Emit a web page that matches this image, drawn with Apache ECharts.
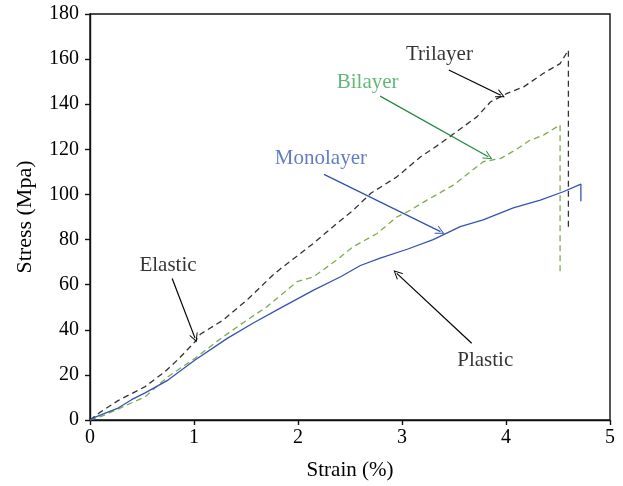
<!DOCTYPE html>
<html>
<head>
<meta charset="utf-8">
<script src="https://cdn.jsdelivr.net/npm/echarts@6/dist/echarts.min.js"></script>
<style>
  html, body { margin: 0; padding: 0; background: #fff; }
  #chart { width: 623px; height: 486px; }
</style>
</head>
<body>
<div id="chart"></div>
<script>
// --- Data ---
const trilayerStrain = [0, 0.1, 0.27, 0.53, 0.72, 0.85, 1.01, 1.06, 1.28, 1.51, 1.76, 1.83, 2.0, 2.15, 2.37, 2.53, 2.7, 2.95, 3.18, 3.35, 3.5, 3.72, 3.85, 4.01, 4.17, 4.36, 4.52, 4.6, 4.6];
const trilayerStress = [0, 3.5, 8.6, 14.8, 21.4, 27, 34.7, 38, 44.3, 53.2, 64.3, 67, 73, 78.4, 87, 93, 100.5, 107.8, 116.7, 122, 127, 134.4, 141, 144.8, 147.7, 153.7, 158, 164, 85];

const bilayerStrain = [0, 0.14, 0.3, 0.53, 0.75, 1.01, 1.28, 1.5, 1.7, 1.99, 2.15, 2.37, 2.53, 2.76, 2.95, 3.08, 3.24, 3.49, 3.72, 3.78, 3.95, 4.1, 4.23, 4.36, 4.52, 4.52];
const bilayerStress = [0, 2.2, 5.5, 10.3, 19.2, 27.4, 36.9, 44, 50.2, 61.3, 63.5, 70.9, 76.8, 82.7, 90, 93, 97.5, 104, 112.3, 114.5, 116, 120, 124, 126.3, 130.8, 65];

const monolayerStrain = [0, 0.05, 0.27, 0.4, 0.53, 0.75, 1.01, 1.32, 1.57, 1.83, 2.15, 2.41, 2.6, 2.79, 3.05, 3.3, 3.56, 3.78, 4.07, 4.33, 4.55, 4.72, 4.72];
const monolayerStress = [0, 1.3, 5.3, 9, 12, 17.7, 26.6, 36.2, 43, 49.6, 57.6, 63.5, 68.5, 71.8, 75.7, 80, 85.7, 88.7, 94, 97.5, 101.2, 104.6, 97];

// annotations: label text, label position, arrow tail, arrow head (data units)
const noteTexts = ['Trilayer', 'Bilayer', 'Monolayer', 'Elastic', 'Plastic'];
const noteAt = [[3.36, 162.2], [2.67, 149.8], [2.22, 116], [0.75, 68.7], [3.8, 26.6]];
const arrowFrom = [[3.45, 155.2], [2.79, 143.6], [2.25, 108.9], [0.79, 62.7], [3.67, 34]];
const arrowTo = [[3.95, 144], [3.83, 116.7], [3.37, 83.5], [1.01, 36.3], [2.95, 65]];
const noteColors = ['#000', '#3aa655', '#3a5cb4', '#000', '#000'];
const arrowColors = ['#000', '#1f8a3f', '#3050ad', '#000', '#000'];

const FONT = 'Liberation Serif';
const openArrow = 'path://M0,10 L5,0 L10,10 L8.8,10 L5,2.4 L1.2,10 Z';

function zipXY(xs, ys) {
  return xs.map((x, i) => [x, ys[i]]);
}

const chart = echarts.init(document.getElementById('chart'), null, { renderer: 'canvas' });

const axisCommon = {
  axisLine: { show: true, lineStyle: { color: '#111', width: 1.4 } },
  axisTick: { show: true, inside: false, length: 5, lineStyle: { color: '#111', width: 1.4 } },
  axisLabel: { color: '#000', fontFamily: FONT, fontSize: 20 },
  splitLine: { show: false },
  nameTextStyle: { color: '#000', fontFamily: FONT, fontSize: 21 }
};

const option = {
  animation: false,
  backgroundColor: '#fff',
  grid: {
    left: 90, right: 13, top: 14, bottom: 66,
    show: true, borderColor: '#111', borderWidth: 1.4
  },
  xAxis: Object.assign({}, axisCommon, {
    type: 'value', min: 0, max: 5, interval: 1,
    name: 'Strain (%)', nameLocation: 'middle', nameGap: 40,
    axisLabel: Object.assign({}, axisCommon.axisLabel, { margin: 8 })
  }),
  yAxis: Object.assign({}, axisCommon, {
    type: 'value', min: 0, max: 180, interval: 20,
    name: 'Stress (Mpa)', nameLocation: 'middle', nameGap: 54,
    nameTextStyle: Object.assign({}, axisCommon.nameTextStyle, { fontSize: 22 }),
    axisLabel: Object.assign({}, axisCommon.axisLabel, { margin: 11 })
  }),
  series: [
    {
      name: 'Trilayer', type: 'line', data: zipXY(trilayerStrain, trilayerStress),
      showSymbol: false, symbol: 'none',
      lineStyle: { color: '#333', width: 1.3, type: [6, 4] }
    },
    {
      name: 'Bilayer', type: 'line', data: zipXY(bilayerStrain, bilayerStress),
      showSymbol: false, symbol: 'none',
      lineStyle: { color: '#7fab4f', width: 1.3, type: [6, 4] }
    },
    {
      name: 'Monolayer', type: 'line', data: zipXY(monolayerStrain, monolayerStress),
      showSymbol: false, symbol: 'none',
      lineStyle: { color: '#3553b0', width: 1.3 },
      markLine: {
        silent: true,
        animation: false,
        symbol: ['none', openArrow],
        symbolSize: [9, 9],
        label: { show: false },
        data: arrowFrom.map((p, i) => [
          { coord: p, lineStyle: { color: arrowColors[i], width: 1.2, type: 'solid' } },
          { coord: arrowTo[i], itemStyle: { color: arrowColors[i] } }
        ])
      }
    },
    {
      name: 'notes', type: 'scatter', symbolSize: 0, silent: true,
      data: noteAt.map((p, i) => ({
        value: p,
        label: {
          show: true, position: 'inside', formatter: noteTexts[i],
          color: noteColors[i], fontFamily: FONT, fontSize: 21
        }
      }))
    }
  ]
};

chart.setOption(option);
</script>
</body>
</html>
